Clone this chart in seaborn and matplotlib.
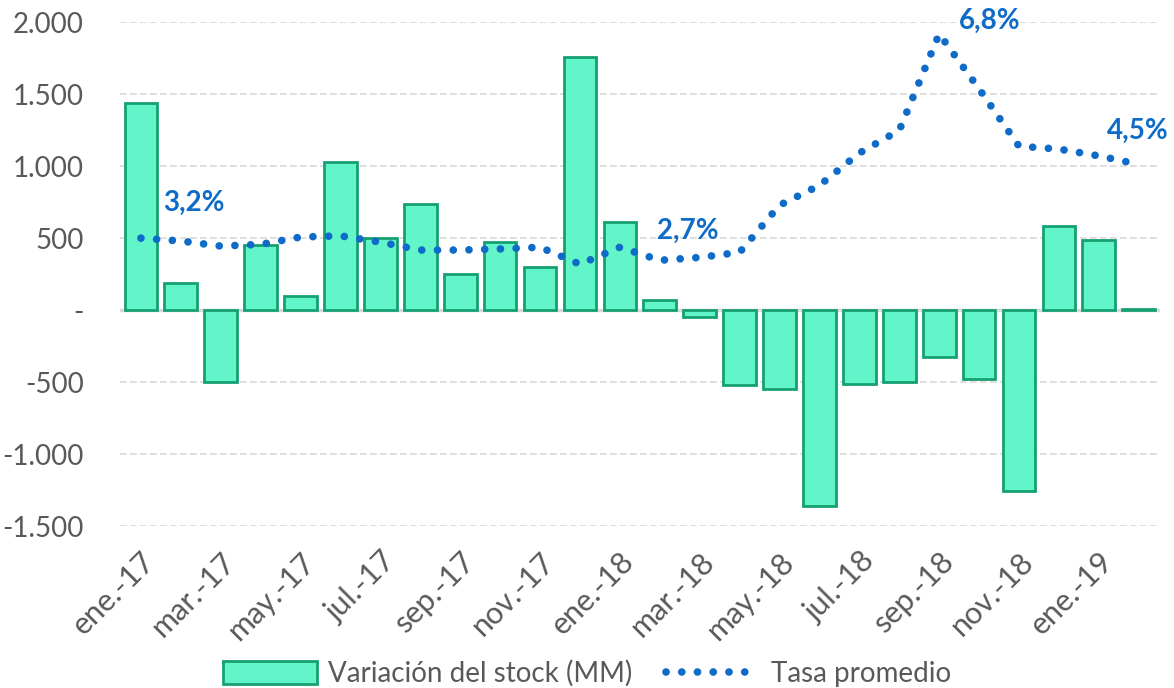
import numpy as np
import pandas as pd
import matplotlib
matplotlib.use("Agg")
import matplotlib.pyplot as plt
from matplotlib.ticker import FuncFormatter
from matplotlib.patches import Patch
from matplotlib.lines import Line2D
import seaborn as sns

# datos mensuales ene-17 .. feb-19
meses = ["ene.-17", "feb.-17", "mar.-17", "abr.-17", "may.-17", "jun.-17",
         "jul.-17", "ago.-17", "sep.-17", "oct.-17", "nov.-17", "dic.-17",
         "ene.-18", "feb.-18", "mar.-18", "abr.-18", "may.-18", "jun.-18",
         "jul.-18", "ago.-18", "sep.-18", "oct.-18", "nov.-18", "dic.-18",
         "ene.-19", "feb.-19"]
variacion_stock = [1440, 190, -500, 450, 100, 1030, 500, 735, 250, 470, 300, 1760,
                   615, 70, -45, -520, -550, -1360, -515, -495, -325, -475, -1255,
                   585, 490, 10]
tasa_promedio = [3.20, 3.15, 3.06, 3.09, 3.22, 3.24, 3.13, 2.99, 2.99, 3.01, 3.04, 2.74,
                 3.04, 2.81, 2.86, 2.95, 3.78, 4.13, 4.70, 5.10, 6.80, 5.83, 4.82,
                 4.77, 4.65, 4.50]
etiquetas_tasa = {0: "3,2%", 14: "2,7%", 20: "6,8%", 25: "4,5%"}

gris = "#595959"
verde = "#61F5C9"
verde_borde = "#16A072"
azul = "#0F6BC8"

sns.set_theme(style="white")
plt.rcParams['font.family'] = ['Lato', 'DejaVu Sans']

df = pd.DataFrame({"mes": meses, "variacion": variacion_stock, "tasa": tasa_promedio})

fig = plt.figure(figsize=(11.74, 6.88), dpi=100)
ax = fig.add_axes([0.102, 0.235, 0.886, 0.733])

sns.barplot(data=df, x="mes", y="variacion", color=verde, edgecolor=verde_borde,
            linewidth=2, width=0.82, saturation=1, ax=ax, zorder=2)

ax.set_ylim(-1500, 2000)
ax.set_yticks(np.arange(-1500, 2001, 500))
ax.yaxis.set_major_formatter(FuncFormatter(
    lambda v, p: "-" if v == 0 else f"{int(v):,}".replace(",", ".")))
ax.set_xlim(-0.53, len(meses) - 0.47)
ax.set_xticks(range(0, len(meses), 2))
ax.set_xticklabels(meses[::2], rotation=45, ha="right", va="top",
                   rotation_mode="anchor")
ax.tick_params(axis="both", colors=gris, length=0)
ax.tick_params(axis="x", pad=15, labelsize=22)
ax.tick_params(axis="y", pad=26, labelsize=20)
ax.set_xlabel("")
ax.set_ylabel("")
for s in ax.spines.values():
    s.set_visible(False)
ax.grid(axis="y", color="#D9D9D9", linestyle=(0, (4, 2)), linewidth=1.2, zorder=0)
ax.axhline(0, color="#D9D9D9", linewidth=2.5, zorder=1)

ax2 = ax.twinx()
sns.lineplot(x=np.arange(len(meses)), y=tasa_promedio, ax=ax2, color=azul,
             linewidth=5.5, zorder=3)
ln = ax2.lines[0]
ln.set_linestyle((0, (0.01, 2.05)))
ln.set_dash_capstyle("round")
ax2.set_ylim(-1.88, 7.01)
ax2.set_yticks([])
ax2.set_ylabel("")
for s in ax2.spines.values():
    s.set_visible(False)

offsets = {0: (16, 16), 14: (-31, 10), 20: (14, 0), 25: (-23, 15)}
for i, txt in etiquetas_tasa.items():
    ax2.annotate(txt, (i, tasa_promedio[i]), xytext=offsets[i],
                 textcoords="offset points", color=azul, fontsize=20,
                 fontweight="bold", ha="left", va="bottom")

handles = [Patch(facecolor=verde, edgecolor=verde_borde, linewidth=2),
           Line2D([], [], color=azul, linewidth=5.5, linestyle=(0, (0.01, 2.05)),
                  dash_capstyle="round")]
fig.legend(handles, ["Variación del stock (MM)", "Tasa promedio"],
           loc="lower center", bbox_to_anchor=(0.5, -0.035), ncol=2, frameon=False,
           fontsize=20, labelcolor=gris, handlelength=3.4, handleheight=0.9,
           columnspacing=1.2, handletextpad=0.4)

fig.savefig("out.png", dpi=100)
